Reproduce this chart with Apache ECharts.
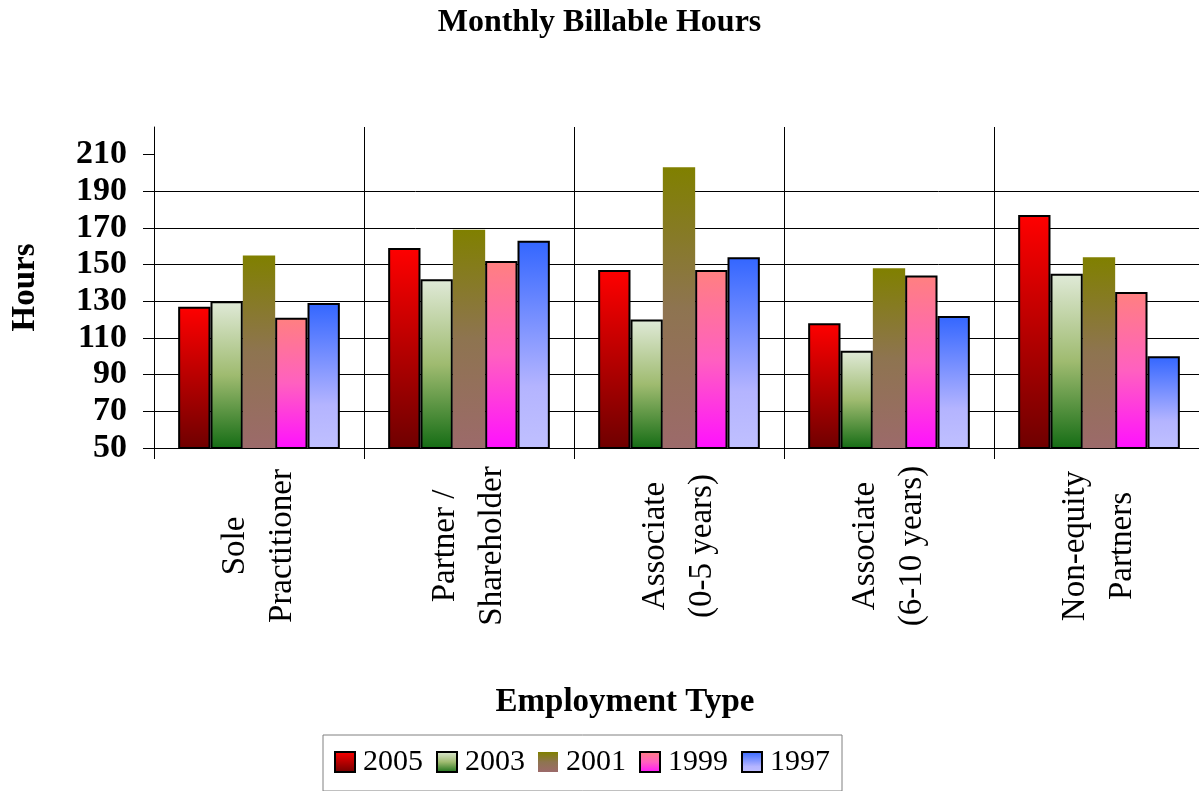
<!DOCTYPE html>
<html>
<head>
<meta charset="utf-8">
<script src="https://cdn.jsdelivr.net/npm/echarts@6/dist/echarts.min.js"></script>
<style>
  html, body { margin: 0; padding: 0; background: #fff; }
  #main { width: 1199px; height: 791px; }
</style>
</head>
<body>
<div id="main"></div>
<script>
// categories + values
var categories = ['Sole\nPractitioner', 'Partner /\nShareholder', 'Associate\n(0-5 years)', 'Associate\n(6-10 years)', 'Non-equity\nPartners'];
var years = ['2005', '2003', '2001', '1999', '1997'];
var hours2005 = [127, 159, 147, 118, 177];
var hours2003 = [130, 142, 120, 103, 145];
var hours2001 = [155, 169, 203, 148, 154];
var hours1999 = [121, 152, 147, 144, 135];
var hours1997 = [129, 163, 154, 122, 100];
var yTicks = [50, 70, 90, 110, 130, 150, 170, 190, 210];

var FONT = '"Liberation Serif", "Times New Roman", serif';

function grad(stops) {
  return new echarts.graphic.LinearGradient(0, 0, 0, 1, stops.map(function (s) {
    return { offset: s[0], color: s[1] };
  }));
}

var fills = [
  grad([[0, '#ff0000'], [1, '#6e0000']]),
  grad([[0, '#e0ead8'], [0.5, '#9fbb70'], [1, '#146c14']]),
  grad([[0, '#808000'], [0.5, '#8e7450'], [1, '#9c6a6a']]),
  grad([[0, '#ff8080'], [0.5, '#ff60c0'], [1, '#ff10ff']]),
  grad([[0, '#3366ff'], [0.7, '#b4b4ff'], [1, '#c0c0ff']])
];
var borders = [2, 2, 0, 2, 2];
var allData = [hours2005, hours2003, hours2001, hours1999, hours1997];

var chart = echarts.init(document.getElementById('main'));

var series = [];
for (var i = 0; i < years.length; i++) {
  series.push({
    name: years[i],
    type: 'bar',
    data: allData[i],
    barGap: '0%',
    barCategoryGap: '23%',
    itemStyle: {
      color: fills[i],
      borderColor: '#000',
      borderWidth: borders[i]
    }
  });
}

var option = {
  animation: false,
  backgroundColor: '#fff',
  title: {
    text: 'Monthly Billable Hours',
    left: 'center',
    top: 2,
    textStyle: { fontFamily: FONT, fontSize: 32, fontWeight: 'bold', color: '#000' }
  },
  legend: {
    data: years,
    icon: 'rect',
    left: 323,
    top: 735,
    padding: [12, 12, 14, 11],
    itemWidth: 20,
    itemHeight: 20,
    itemGap: 13,
    borderColor: '#808080',
    borderWidth: 1,
    textStyle: { fontFamily: FONT, fontSize: 30, color: '#000', padding: [0, 0, 0, 3] }
  },
  grid: { left: 154, top: 127, width: 1050, height: 321, containLabel: false, outerBoundsMode: 'none' },
  xAxis: {
    type: 'category',
    data: categories,
    name: 'Employment Type',
    nameLocation: 'middle',
    nameGap: 238,
    nameTextStyle: {
      fontFamily: FONT, fontSize: 33, fontWeight: 'bold', color: '#000',
      padding: [0, 108, 0, 0]
    },
    axisLine: { lineStyle: { color: '#000', width: 1 } },
    axisTick: { show: true, length: 11, lineStyle: { color: '#000' } },
    splitLine: { show: true, lineStyle: { color: '#000', width: 1 } },
    axisLabel: {
      rotate: 90,
      align: 'center',
      verticalAlign: 'middle',
      margin: 98,
      lineHeight: 47,
      interval: 0,
      fontFamily: FONT,
      fontSize: 33,
      color: '#000'
    }
  },
  yAxis: {
    type: 'value',
    min: 50,
    max: 225,
    interval: 20,
    name: 'Hours',
    nameLocation: 'middle',
    nameGap: 112,
    nameRotate: 90,
    nameTextStyle: { fontFamily: FONT, fontSize: 33, fontWeight: 'bold', color: '#000' },
    axisLine: { show: true, lineStyle: { color: '#000', width: 1 } },
    axisTick: { show: true, length: 11, customValues: yTicks, lineStyle: { color: '#000' } },
    splitLine: { show: true, showMaxLine: false, lineStyle: { color: '#000', width: 1 } },
    axisLabel: {
      customValues: yTicks,
      margin: 27,
      fontFamily: FONT,
      fontSize: 34,
      fontWeight: 'bold',
      color: '#000'
    }
  },
  series: series
};

chart.setOption(option);
</script>
</body>
</html>
